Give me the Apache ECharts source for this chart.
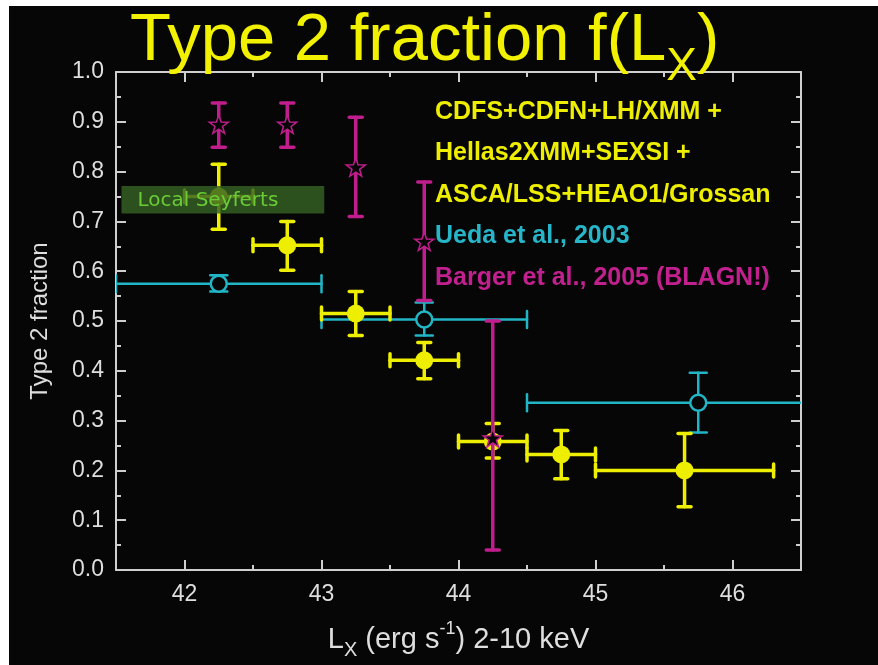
<!DOCTYPE html>
<html>
<head>
<meta charset="utf-8">
<script src="https://cdn.jsdelivr.net/npm/echarts@6/dist/echarts.min.js"></script>
<style>
html,body{margin:0;padding:0;background:#ffffff;width:878px;height:665px;overflow:hidden;}
#c{position:absolute;left:9px;top:6px;width:869px;height:659px;background:#060606;}
</style>
</head>
<body>
<div id="c"></div>
<script>
// ---- data ----
const xMajorTicks = [42, 43, 44, 45, 46];
const xMinorTicks = [42.5, 43.5, 44.5, 45.5];

const yellowX   = [42.25, 42.75, 43.25, 43.75, 44.25, 44.75, 45.65];
const yellowY   = [0.750, 0.652, 0.515, 0.421, 0.258, 0.232, 0.200];
const yellowXLo = [42.0, 42.5, 43.0, 43.5, 44.0, 44.5, 45.0];
const yellowXHi = [42.5, 43.0, 43.5, 44.0, 44.5, 45.0, 46.3];
const yellowYLo = [0.684, 0.602, 0.471, 0.384, 0.225, 0.183, 0.127];
const yellowYHi = [0.815, 0.700, 0.559, 0.457, 0.294, 0.280, 0.274];

const cyanX   = [42.25, 43.75, 45.75];
const cyanY   = [0.575, 0.503, 0.336];
const cyanXLo = [41.5, 43.0, 44.5];
const cyanXHi = [43.0, 44.5, 46.6];
const cyanYLo = [0.559, 0.471, 0.276];
const cyanYHi = [0.592, 0.537, 0.396];

const magX   = [42.25, 42.75, 43.25, 43.75, 44.25];
const magY   = [0.895, 0.895, 0.809, 0.660, 0.265];
const magYLo = [0.849, 0.849, 0.710, 0.541, 0.040];
const magYHi = [0.938, 0.938, 0.909, 0.779, 0.500];

const localBox = [41.54, 43.02, 0.716, 0.771];
const localLabel = 'Local Seyferts';

const legendLines = [
  {text: 'CDFS+CDFN+LH/XMM +', color: '#eeee00'},
  {text: 'Hellas2XMM+SEXSI +', color: '#eeee00'},
  {text: 'ASCA/LSS+HEAO1/Grossan', color: '#eeee00'},
  {text: 'Ueda et al., 2003', color: '#27b6c9'},
  {text: 'Barger et al., 2005 (BLAGN!)', color: '#c2208e'}
];

// ---- build ----
const YEL = '#eeee00', CYA = '#22b5c6', MAG = '#c01e8c';
const AX = '#cfcfcf', LAB = '#dedede';
const FONT = '"Liberation Sans", Arial, sans-serif';

function rows(x, y, xl, xh, yl, yh) {
  return x.map((v, i) => [v, y[i], xl ? xl[i] : v, xh ? xh[i] : v, yl[i], yh[i]]);
}

function errRender(color, lw, capLen) {
  return function (params, api) {
    const x = api.value(0), y = api.value(1);
    const xl = api.value(2), xh = api.value(3), yl = api.value(4), yh = api.value(5);
    const st = {stroke: color, lineWidth: lw, lineCap: 'round'};
    const ch = [];
    const h = capLen / 2;
    if (xl !== xh) {
      const a = api.coord([xl, y]), b = api.coord([xh, y]);
      ch.push({type: 'line', shape: {x1: a[0], y1: a[1], x2: b[0], y2: b[1]}, style: st});
      ch.push({type: 'line', shape: {x1: a[0], y1: a[1] - h, x2: a[0], y2: a[1] + h}, style: st});
      ch.push({type: 'line', shape: {x1: b[0], y1: b[1] - h, x2: b[0], y2: b[1] + h}, style: st});
    }
    const c = api.coord([x, yl]), d = api.coord([x, yh]);
    ch.push({type: 'line', shape: {x1: c[0], y1: c[1], x2: d[0], y2: d[1]}, style: st});
    ch.push({type: 'line', shape: {x1: c[0] - h, y1: c[1], x2: c[0] + h, y2: c[1]}, style: st});
    ch.push({type: 'line', shape: {x1: d[0] - h, y1: d[1], x2: d[0] + h, y2: d[1]}, style: st});
    return {type: 'group', children: ch};
  };
}

const STAR = 'path://M0,-10L2.35,-3.24L9.51,-3.09L3.8,1.24L5.88,8.09L0,4L-5.88,8.09L-3.8,1.24L-9.51,-3.09L-2.35,-3.24Z';

const yellowData = rows(yellowX, yellowY, yellowXLo, yellowXHi, yellowYLo, yellowYHi);
const cyanData = rows(cyanX, cyanY, cyanXLo, cyanXHi, cyanYLo, cyanYHi);
const magData = rows(magX, magY, null, null, magYLo, magYHi);

function xAx(pos, ticks, len, showLine, showLabel) {
  return {
    type: 'value', position: pos, min: 41.5, max: 46.5,
    axisLine: {show: showLine, lineStyle: {color: AX, width: 2}},
    axisTick: {show: true, inside: true, length: len, customValues: ticks, lineStyle: {color: AX, width: 2}},
    axisLabel: {show: showLabel, customValues: ticks, color: LAB, fontSize: 23, fontFamily: FONT, margin: 13},
    splitLine: {show: false}
  };
}

const xAxes = [
  Object.assign(xAx('bottom', xMajorTicks, 10, true, true), {
    name: '{a|L}{s|X}{a| (erg s}{p|-1}{a|) 2-10 keV}',
    nameLocation: 'middle', nameGap: 50,
    nameTextStyle: {
      rich: {
        a: {color: LAB, fontSize: 29, fontFamily: FONT, lineHeight: 40, verticalAlign: 'middle'},
        s: {color: LAB, fontSize: 20, fontFamily: FONT, lineHeight: 20, verticalAlign: 'bottom'},
        p: {color: LAB, fontSize: 18, fontFamily: FONT, lineHeight: 20, verticalAlign: 'top'}
      }
    }
  }),
  xAx('bottom', xMinorTicks, 5, false, false),
  xAx('top', xMajorTicks, 10, true, false),
  xAx('top', xMinorTicks, 5, false, false)
];

function yAx(pos, showLabel) {
  return {
    type: 'value', position: pos, min: 0, max: 1, interval: 0.1,
    axisLine: {show: true, lineStyle: {color: AX, width: 2}},
    axisTick: {show: true, inside: true, length: 10, lineStyle: {color: AX, width: 2}},
    minorTick: {show: true, splitNumber: 2, length: 5, lineStyle: {color: AX, width: 2}},
    axisLabel: {show: showLabel, color: LAB, fontSize: 23, fontFamily: FONT, margin: 12,
      formatter: v => v.toFixed(1)},
    splitLine: {show: false}
  };
}
const yAxes = [
  Object.assign(yAx('left', true), {
    name: 'Type 2 fraction', nameLocation: 'middle', nameRotate: 90, nameGap: 64,
    nameTextStyle: {color: LAB, fontSize: 24, fontFamily: FONT}
  }),
  yAx('right', false)
];

const option = {
  backgroundColor: '#060606',
  animation: false,
  title: {
    text: '{a|Type 2 fraction f(L}{s|X}{a|)}',
    left: 121, top: 2, padding: 0,
    textStyle: {
      fontWeight: 'normal',
      rich: {
        a: {color: '#f2f200', fontSize: 67, fontWeight: 'normal', fontFamily: FONT, lineHeight: 66, verticalAlign: 'top'},
        s: {color: '#f2f200', fontSize: 46, fontWeight: 'normal', fontFamily: FONT, lineHeight: 46, padding: [36, 0, 0, 0], verticalAlign: 'top'}
      }
    }
  },
  grid: {left: 107, right: 77, top: 66, bottom: 90},
  xAxis: xAxes,
  yAxis: yAxes,
  graphic: legendLines.map((l, i) => ({
    type: 'text', x: 426, y: 106 + i * 41.5,
    style: {text: l.text, fill: l.color, font: 'bold 25px ' + FONT, verticalAlign: 'middle'}
  })),
  series: [
    {type: 'custom', name: 'Ueda err', z: 2, clip: true, renderItem: errRender(CYA, 2.5, 17), data: cyanData},
    {type: 'scatter', name: 'Ueda', z: 3, symbol: 'circle', symbolSize: 16,
      itemStyle: {color: '#060606', borderColor: CYA, borderWidth: 2.5, opacity: 1}, data: cyanData.map(r => [r[0], r[1]])},
    {type: 'custom', name: 'Yellow err', z: 4, clip: true, renderItem: errRender(YEL, 3.5, 13), data: yellowData},
    {type: 'scatter', name: 'Yellow', z: 5, symbol: 'circle', symbolSize: 18,
      itemStyle: {color: YEL, opacity: 1}, data: yellowData.map(r => [r[0], r[1]])},
    {type: 'custom', name: 'Barger err', z: 6, clip: true, renderItem: errRender(MAG, 3.5, 13), data: magData},
    {type: 'scatter', name: 'Barger', z: 7, symbol: STAR, symbolKeepAspect: true, symbolSize: 19,
      itemStyle: {color: '#060606', borderColor: MAG, borderWidth: 1.5, opacity: 1}, data: magData.map(r => [r[0], r[1]])},
    {type: 'custom', name: 'Local', z: 10, data: [localBox],
      renderItem: function (params, api) {
        const a = api.coord([api.value(0), api.value(3)]);
        const b = api.coord([api.value(1), api.value(2)]);
        return {type: 'group', children: [
          {type: 'rect', shape: {x: a[0], y: a[1], width: b[0] - a[0], height: b[1] - a[1]},
            style: {fill: 'rgba(52,98,36,0.82)'}},
          {type: 'text', x: a[0] + 16, y: (a[1] + b[1]) / 2 + 1,
            style: {text: localLabel, fill: '#6acb35', font: '20px "DejaVu Sans", sans-serif', verticalAlign: 'middle'}}
        ]};
      }}
  ]
};

const chart = echarts.init(document.getElementById('c'), null, {renderer: 'canvas'});
chart.setOption(option);
</script>
</body>
</html>
